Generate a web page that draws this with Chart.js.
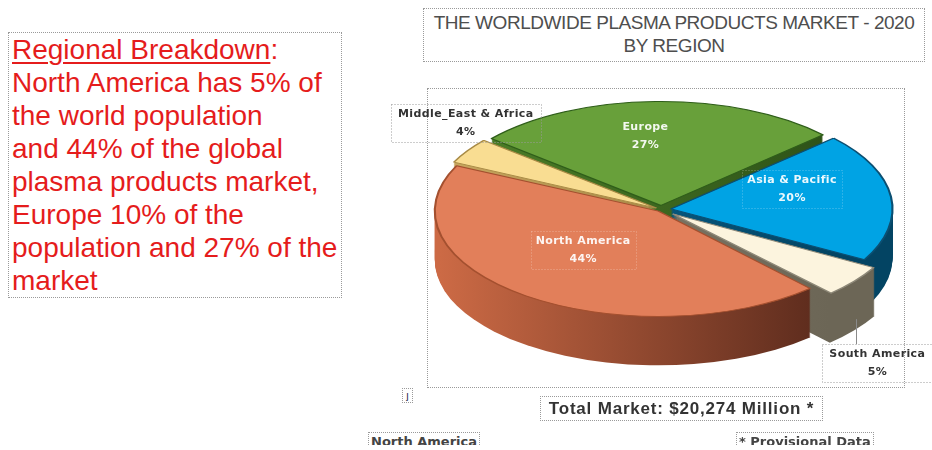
<!DOCTYPE html>
<html>
<head>
<meta charset="utf-8">
<script src="https://cdn.jsdelivr.net/npm/chart.js"></script>
<style>
  html, body { margin: 0; padding: 0; }
  body { width: 932px; height: 450px; overflow: hidden; position: relative; background: #fff;
         font-family: "Liberation Sans", Arial, sans-serif; }
  .box { position: absolute; border: 1px dotted #9a9a9a; box-sizing: border-box; }
  #note { left: 8px; top: 32px; width: 334px; height: 266px; padding-left: 3px;
          color: #e51c1c; font-size: 28px; line-height: 33px; }
  #note u { text-decoration-thickness: 2px; text-underline-offset: 3px; }
  #title { left: 423px; top: 8px; width: 502px; height: 54px; padding-top: 2px;
           text-align: center; color: #4e4e4e; font-size: 19px; line-height: 23px; letter-spacing: -0.45px; }
  #plot { left: 427px; top: 88px; width: 478px; height: 300px; }
  #wrap { position: absolute; left: 380px; top: 60px; width: 552px; height: 340px; }
  #total { left: 540px; top: 396px; width: 283px; height: 25px; text-align: center;
           color: #333; font-weight: bold; font-size: 17px; line-height: 23px; letter-spacing: 0.8px; }
  .foot { top: 432px; height: 13px; overflow: hidden; border-bottom: none;
          font-family: "DejaVu Sans", sans-serif; font-weight: bold; font-size: 13px;
          color: #444; line-height: 18px; padding: 0 2px; }
  #mark { left: 402px; top: 388px; width: 11px; height: 15px; font-size: 11px; line-height: 13px;
          color: #335; text-align: center; }
</style>
</head>
<body>
<div id="note" class="box"><u>Regional Breakdown</u>:<br>North America has 5% of<br>the world population<br>and 44% of the global<br>plasma products market,<br>Europe 10% of the<br>population and 27% of the<br>market</div>
<div id="title" class="box">THE WORLDWIDE PLASMA PRODUCTS MARKET - 2020<br>BY REGION</div>
<div id="plot" class="box"></div>
<div id="mark" class="box">ȷ</div>
<div id="wrap"><canvas id="pie" width="552" height="340"></canvas></div>
<div id="total" class="box">Total Market: $20,274 Million *</div>
<div class="box foot" style="left:368px">North America</div>
<div class="box foot" style="left:736px">* Provisional Data</div>
<script>
// market share by region, 2020 (%)
const regions = ['Europe', 'Asia & Pacific', 'South America', 'North America', 'Middle_East & Africa'];
const shares = [27, 20, 5, 44, 4];

const faceColors = ['#68a03a', '#00a3e4', '#fcf4de', '#e27f5a', '#f9dd92'];
const edgeColors = ['#2f5e1a', '#0b4f72', '#8d8878', '#a4502f', '#a88a45'];
const wallColors = [['#4f8229', '#2e5218'], ['#0a6e9e', '#034463'], ['#8a8474', '#6c6656'],
                    ['#cc6a45', '#5a2a1c'], ['#c9a860', '#8f7236']];

// where each label sits: fraction of radius along the slice middle, then a nudge
const labelSpots = [
  { f: 0.62, dx: -12, dy: -5, inside: true, box: false },
  { f: 0.62, dx: -15, dy: -12, inside: true, box: true },
  { f: 1.0, dx: 31, dy: 85, inside: false, box: true, leader: true },
  { f: 0.62, dx: 6, dy: -13, inside: true, box: true },
  { f: 1.0, dx: -5, dy: -29, inside: false, box: true }
];

const RX = 221, RY = 104, DEPTH = 49;

const tilt = {
  id: 'tilt',
  beforeDatasetsDraw(chart) {
    const ctx = chart.ctx;
    const arcs = chart.getDatasetMeta(0).data;
    const cx = arcs[0].x, cy = arcs[0].y;
    const sx = RX / arcs[0].outerRadius, sy = RY / arcs[0].outerRadius;
    chart.$tilt = { cx, cy, sx, sy };

    const grads = arcs.map((a, i) => {
      const g = ctx.createLinearGradient(cx - RX, 0, cx + RX, 0);
      g.addColorStop(0, wallColors[i][0]);
      g.addColorStop(0.88, wallColors[i][1]);
      g.addColorStop(1, wallColors[i][1]);
      return g;
    });

    // side walls: stack the slices downwards, bottom layer first
    for (let k = DEPTH; k > 0; k--) {
      arcs.forEach((a, i) => {
        const off = (a.options.offset || 0) / 4;
        const mid = (a.startAngle + a.endAngle) / 2;
        const fix = 1 - Math.sin(Math.min(Math.PI, a.endAngle - a.startAngle));
        const rr = a.outerRadius + off * fix;
        const x = cx + Math.cos(mid) * off * sx;
        const y = cy + Math.sin(mid) * off * sy + k;
        ctx.beginPath();
        ctx.moveTo(x, y);
        ctx.ellipse(x, y, rr * sx, rr * sy, 0, a.startAngle, a.endAngle);
        ctx.closePath();
        ctx.fillStyle = grads[i];
        ctx.fill();
      });
    }

    // top faces are drawn by chart.js, squashed into an ellipse
    ctx.save();
    ctx.translate(cx, cy);
    ctx.scale(sx, sy);
    ctx.translate(-cx, -cy);
  },
  afterDatasetsDraw(chart) {
    const ctx = chart.ctx;
    ctx.restore();
    const { cx, cy, sx, sy } = chart.$tilt;
    const arcs = chart.getDatasetMeta(0).data;

    ctx.save();
    ctx.font = 'bold 11px "DejaVu Sans"';
    ctx.letterSpacing = '0.4px';
    ctx.textAlign = 'center';
    ctx.textBaseline = 'middle';
    arcs.forEach((a, i) => {
      const s = labelSpots[i];
      const off = (a.options.offset || 0) / 4;
      const mid = (a.startAngle + a.endAngle) / 2;
      const rr = a.outerRadius * s.f + off;
      const x = cx + Math.cos(mid) * rr * sx + s.dx;
      const y = cy + Math.sin(mid) * rr * sy + s.dy;
      const name = regions[i];
      const pct = shares[i] + '%';
      const w = Math.max(ctx.measureText(name).width, ctx.measureText(pct).width);

      if (s.box) {
        ctx.save();
        ctx.setLineDash([1, 2]);
        ctx.lineWidth = 1;
        ctx.strokeStyle = s.inside ? 'rgba(255,255,255,0.35)' : '#9a9a9a';
        const bw = w + (s.inside ? 10 : 14);
        ctx.strokeRect(Math.round(x - bw / 2) + 0.5, Math.round(y - 19) + 0.5, Math.round(bw), 38);
        ctx.restore();
      }
      if (s.leader) {
        ctx.save();
        ctx.strokeStyle = '#8a8a8a';
        ctx.lineWidth = 1;
        ctx.beginPath();
        ctx.moveTo(Math.round(x - 21) + 0.5, y - 44);
        ctx.lineTo(Math.round(x - 21) + 0.5, y - 19);
        ctx.stroke();
        ctx.restore();
      }
      ctx.fillStyle = s.inside ? 'rgba(255,255,255,0.92)' : '#333';
      ctx.fillText(name, x, y - 9);
      ctx.fillText(pct, x, y + 9);
    });
    ctx.restore();
  }
};

new Chart(document.getElementById('pie'), {
  type: 'pie',
  data: {
    labels: regions,
    datasets: [{
      data: shares,
      backgroundColor: faceColors,
      borderColor: edgeColors,
      borderWidth: 1,
      offset: [16, 19, 28, 8, 10],
      clip: false
    }]
  },
  options: {
    responsive: false,
    animation: false,
    rotation: -50,
    layout: { padding: { left: 100, right: 90, top: 31, bottom: 72 } },
    plugins: { legend: { display: false }, tooltip: { enabled: false } }
  },
  plugins: [tilt]
});
</script>
</body>
</html>
